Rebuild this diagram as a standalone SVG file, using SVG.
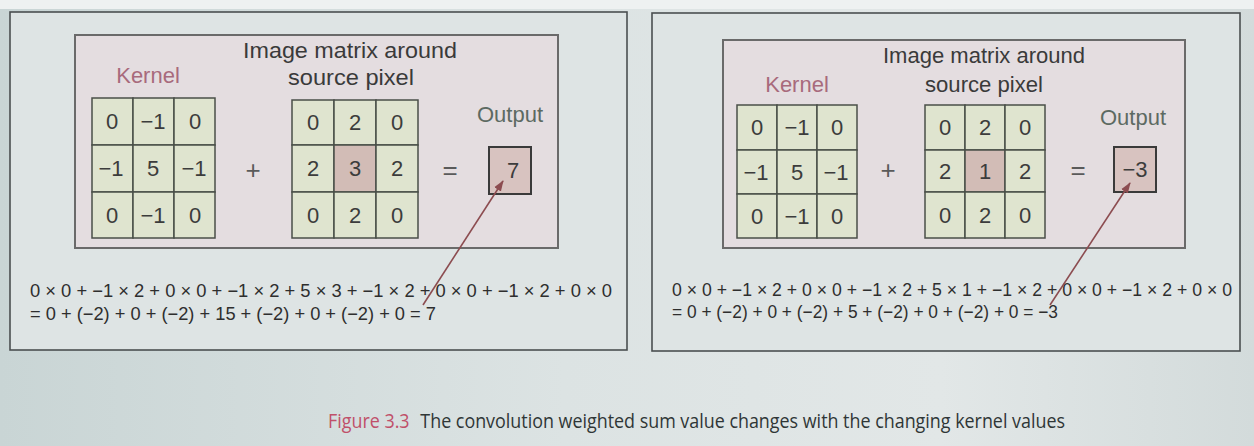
<svg xmlns="http://www.w3.org/2000/svg" width="1254" height="446" viewBox="0 0 1254 446">
<defs>
  <linearGradient id="bg" x1="0" y1="0" x2="1" y2="0">
    <stop offset="0" stop-color="#c9d5d5"/>
    <stop offset="0.45" stop-color="#dce3e3"/>
    <stop offset="0.75" stop-color="#e2e7e7"/>
    <stop offset="1" stop-color="#d3dbdb"/>
  </linearGradient>
  <marker id="ah" markerWidth="11" markerHeight="10" refX="10" refY="5" orient="auto" markerUnits="userSpaceOnUse">
    <path d="M0,1 L11,5 L0,9 Z" fill="#8c4c50"/>
  </marker>
  <style>
    .outer{fill:#dee4e4;stroke:#4a4f50;stroke-width:1.6}
    .inner{fill:#e4dde0;stroke:#6a6a6a;stroke-width:2}
    .cell{fill:#dfe4cf;stroke:#4a4f48;stroke-width:1.5}
    .hot{fill:#d2bcb6;stroke:#4a4f48;stroke-width:1.5}
    .obox{fill:#d8c3c0;stroke:#3a3a3a;stroke-width:2}
    .num{font-family:"Liberation Sans",Arial,sans-serif;font-size:22px;fill:#3c3c3c;text-anchor:middle}
    .lbl{font-family:"Liberation Sans",Arial,sans-serif;font-size:22px;fill:#3a3a3a;text-anchor:middle}
    .kern{font-family:"Liberation Sans",Arial,sans-serif;font-size:22px;fill:#a86a7c;text-anchor:middle}
    .outl{font-family:"Liberation Sans",Arial,sans-serif;font-size:22px;fill:#5c6a62;text-anchor:middle}
    .op{font-family:"Liberation Sans",Arial,sans-serif;font-size:26px;fill:#5a5a5a;text-anchor:middle}
    .eq{font-family:"Liberation Sans",Arial,sans-serif;font-size:18px;fill:#2e2e2e}
    .arrow{stroke:#8c4c50;stroke-width:1.6;fill:none}
    .cap{font-family:"Open Sans","Liberation Sans",sans-serif;font-size:20px;fill:#2f3636}
    .fig{fill:#c0506a}
  </style>
</defs>
<rect x="0" y="0" width="1254" height="446" fill="url(#bg)"/>
<rect x="0" y="0" width="1254" height="9" fill="#eef1f1"/>

<!-- LEFT PANEL -->
<g id="left-panel">
  <rect class="outer" x="10" y="12" width="617" height="338"/>
  <rect class="inner" x="75" y="35" width="483" height="213"/>
</g>
<g id="left-kernel">
  <text class="kern" x="148" y="83">Kernel</text>
  <rect class="cell" x="92" y="98" width="41" height="47"/>
  <rect class="cell" x="133" y="98" width="41" height="47"/>
  <rect class="cell" x="174" y="98" width="41" height="47"/>
  <rect class="cell" x="92" y="145" width="41" height="47"/>
  <rect class="cell" x="133" y="145" width="41" height="47"/>
  <rect class="cell" x="174" y="145" width="41" height="47"/>
  <rect class="cell" x="92" y="192" width="41" height="46"/>
  <rect class="cell" x="133" y="192" width="41" height="46"/>
  <rect class="cell" x="174" y="192" width="41" height="46"/>
  <text class="num" x="112" y="129">0</text>
  <text class="num" x="153" y="129">−1</text>
  <text class="num" x="195" y="129">0</text>
  <text class="num" x="111" y="176">−1</text>
  <text class="num" x="153" y="176">5</text>
  <text class="num" x="194" y="176">−1</text>
  <text class="num" x="112" y="223">0</text>
  <text class="num" x="153" y="223">−1</text>
  <text class="num" x="195" y="223">0</text>
</g>
<g id="left-plus"><text class="op" x="253" y="179">+</text></g>
<g id="left-image">
  <text class="lbl" x="350" y="58" textLength="214" lengthAdjust="spacingAndGlyphs">Image matrix around</text>
  <text class="lbl" x="351" y="85" textLength="126" lengthAdjust="spacingAndGlyphs">source pixel</text>
  <rect class="cell" x="292" y="100" width="42" height="45"/>
  <rect class="cell" x="334" y="100" width="42" height="45"/>
  <rect class="cell" x="376" y="100" width="42" height="45"/>
  <rect class="cell" x="292" y="145" width="42" height="47"/>
  <rect class="hot" x="334" y="145" width="42" height="47"/>
  <rect class="cell" x="376" y="145" width="42" height="47"/>
  <rect class="cell" x="292" y="192" width="42" height="46"/>
  <rect class="cell" x="334" y="192" width="42" height="46"/>
  <rect class="cell" x="376" y="192" width="42" height="46"/>
  <text class="num" x="313" y="130">0</text>
  <text class="num" x="355" y="130">2</text>
  <text class="num" x="397" y="130">0</text>
  <text class="num" x="313" y="176">2</text>
  <text class="num" x="355" y="176">3</text>
  <text class="num" x="397" y="176">2</text>
  <text class="num" x="313" y="223">0</text>
  <text class="num" x="355" y="223">2</text>
  <text class="num" x="397" y="223">0</text>
</g>
<g id="left-equals"><text class="op" x="450" y="179">=</text></g>
<g id="left-output">
  <text class="outl" x="510" y="122">Output</text>
  <rect class="obox" x="489" y="147" width="42" height="47"/>
  <text class="num" x="513" y="178">7</text>
</g>
<g id="left-equation">
  <text class="eq" x="30" y="297" textLength="582" lengthAdjust="spacingAndGlyphs">0 × 0 + −1 × 2 + 0 × 0 + −1 × 2 + 5 × 3 + −1 × 2 + 0 × 0 + −1 × 2 + 0 × 0</text>
  <text class="eq" x="30" y="320" textLength="406" lengthAdjust="spacingAndGlyphs">= 0 + (−2) + 0 + (−2) + 15 + (−2) + 0 + (−2) + 0 = 7</text>
</g>

<!-- RIGHT PANEL -->
<g id="right-panel">
  <rect class="outer" x="652" y="13" width="588" height="338"/>
  <rect class="inner" x="723" y="40" width="462" height="208"/>
</g>
<g id="right-kernel">
  <text class="kern" x="797" y="92">Kernel</text>
  <rect class="cell" x="737" y="105" width="40" height="45"/>
  <rect class="cell" x="777" y="105" width="40" height="45"/>
  <rect class="cell" x="817" y="105" width="40" height="45"/>
  <rect class="cell" x="737" y="150" width="40" height="44"/>
  <rect class="cell" x="777" y="150" width="40" height="44"/>
  <rect class="cell" x="817" y="150" width="40" height="44"/>
  <rect class="cell" x="737" y="194" width="40" height="44"/>
  <rect class="cell" x="777" y="194" width="40" height="44"/>
  <rect class="cell" x="817" y="194" width="40" height="44"/>
  <text class="num" x="757" y="135">0</text>
  <text class="num" x="797" y="135">−1</text>
  <text class="num" x="837" y="135">0</text>
  <text class="num" x="756" y="180">−1</text>
  <text class="num" x="797" y="180">5</text>
  <text class="num" x="836" y="180">−1</text>
  <text class="num" x="757" y="224">0</text>
  <text class="num" x="797" y="224">−1</text>
  <text class="num" x="837" y="224">0</text>
</g>
<g id="right-plus"><text class="op" x="888" y="179">+</text></g>
<g id="right-image">
  <text class="lbl" x="984" y="63" textLength="202" lengthAdjust="spacingAndGlyphs">Image matrix around</text>
  <text class="lbl" x="984" y="92" textLength="118" lengthAdjust="spacingAndGlyphs">source pixel</text>
  <rect class="cell" x="925" y="105" width="40" height="45"/>
  <rect class="cell" x="965" y="105" width="40" height="45"/>
  <rect class="cell" x="1005" y="105" width="40" height="45"/>
  <rect class="cell" x="925" y="150" width="40" height="42"/>
  <rect class="hot" x="965" y="150" width="40" height="42"/>
  <rect class="cell" x="1005" y="150" width="40" height="42"/>
  <rect class="cell" x="925" y="192" width="40" height="46"/>
  <rect class="cell" x="965" y="192" width="40" height="46"/>
  <rect class="cell" x="1005" y="192" width="40" height="46"/>
  <text class="num" x="945" y="135">0</text>
  <text class="num" x="985" y="135">2</text>
  <text class="num" x="1025" y="135">0</text>
  <text class="num" x="945" y="179">2</text>
  <text class="num" x="985" y="179">1</text>
  <text class="num" x="1025" y="179">2</text>
  <text class="num" x="945" y="223">0</text>
  <text class="num" x="985" y="223">2</text>
  <text class="num" x="1025" y="223">0</text>
</g>
<g id="right-equals"><text class="op" x="1078" y="179">=</text></g>
<g id="right-output">
  <text class="outl" x="1133" y="125">Output</text>
  <rect class="obox" x="1114" y="147" width="42" height="45"/>
  <text class="num" x="1135" y="177">−3</text>
</g>
<g id="right-equation">
  <text class="eq" x="672" y="296" textLength="560" lengthAdjust="spacingAndGlyphs">0 × 0 + −1 × 2 + 0 × 0 + −1 × 2 + 5 × 1 + −1 × 2 + 0 × 0 + −1 × 2 + 0 × 0</text>
  <text class="eq" x="672" y="318" textLength="386" lengthAdjust="spacingAndGlyphs">= 0 + (−2) + 0 + (−2) + 5 + (−2) + 0 + (−2) + 0 = −3</text>
</g>

<!-- CONNECTORS -->
<g id="connectors">
  <line class="arrow" x1="423" y1="305" x2="503" y2="181" marker-end="url(#ah)"/>
  <line class="arrow" x1="1050" y1="305" x2="1130" y2="183" marker-end="url(#ah)"/>
</g>

<!-- CAPTION -->
<g id="caption">
  <text class="cap" x="328" y="428" textLength="737" lengthAdjust="spacingAndGlyphs"><tspan class="fig">Figure 3.3</tspan><tspan dx="12">The convolution weighted sum value changes with the changing kernel values</tspan></text>
</g>
</svg>
